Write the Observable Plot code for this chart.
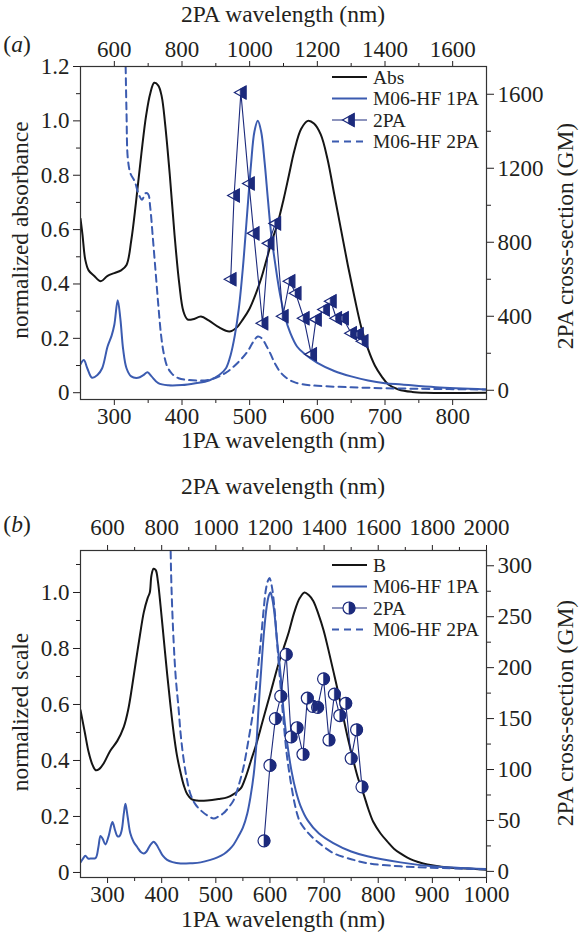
<!DOCTYPE html>
<html><head><meta charset="utf-8">
<script src="https://cdn.jsdelivr.net/npm/d3@7"></script>
<script src="https://cdn.jsdelivr.net/npm/@observablehq/plot@0.6"></script>
<style>
body{margin:0;background:#fff;}
#root{position:relative;width:583px;height:943px;font-family:'Liberation Serif',serif;color:#231f20;overflow:hidden;}
#root svg, #root svg text{font-family:'Liberation Serif',serif;}
.t{position:absolute;white-space:nowrap;font-size:23.5px;line-height:1;transform:translate(-50%,-50%);}
.v{position:absolute;white-space:nowrap;font-size:23.5px;line-height:1;transform:translate(-50%,-50%) rotate(-90deg);}
.p{position:absolute;left:0;}
</style></head><body><div id="root"></div><script>
// ---------- Panel (a) data: [1PA wavelength nm, value] ----------
const absA = [[250,0.64],[253,0.58],[257,0.49],[262,0.45],[270,0.43],[280,0.41],[290,0.43],[300,0.44],[310,0.45],[318,0.47],[325,0.56],[332,0.70],[340,0.88],[347,1.02],[353,1.10],[359,1.14],[365,1.13],[370,1.09],[375,0.99],[382,0.80],[389,0.58],[396,0.40],[402,0.30],[408,0.27],[416,0.27],[428,0.28],[440,0.265],[455,0.24],[470,0.225],[480,0.238],[490,0.27],[500,0.31],[510,0.37],[517,0.42],[525,0.49],[533,0.56],[541,0.62],[550,0.71],[558,0.80],[566,0.89],[576,0.97],[586,1.0],[595,0.99],[605,0.95],[615,0.86],[625,0.73],[635,0.60],[645,0.47],[655,0.35],[665,0.24],[675,0.16],[685,0.10],[695,0.06],[705,0.03],[720,0.012],[740,0.003],[760,0],[850,0]];
const m1A = [[250,0.105],[255,0.12],[260,0.09],[267,0.055],[275,0.065],[282,0.09],[290,0.17],[296,0.21],[300,0.25],[305,0.34],[309,0.27],[313,0.16],[318,0.09],[325,0.06],[335,0.055],[343,0.065],[349,0.075],[355,0.06],[365,0.035],[380,0.027],[400,0.028],[420,0.035],[440,0.045],[455,0.065],[465,0.09],[472,0.14],[478,0.21],[484,0.31],[490,0.46],[496,0.65],[502,0.84],[507,0.96],[512,1.0],[517,0.96],[522,0.85],[527,0.71],[532,0.58],[538,0.47],[545,0.36],[552,0.28],[560,0.22],[570,0.17],[580,0.145],[600,0.11],[625,0.08],[650,0.06],[675,0.045],[700,0.035],[725,0.03],[775,0.02],[850,0.012]];
// GM values (right axis)
const m2A = [[313,2400],[316,1900],[318,1500],[320,1250],[324,1170],[330,1130],[336,1060],[341,1030],[346,1065],[350,1060],[353,990],[357,820],[361,640],[365,460],[369,300],[373,200],[378,130],[385,90],[395,65],[410,55],[428,52],[442,58],[455,75],[467,100],[477,130],[488,170],[497,210],[505,260],[512,290],[518,280],[524,245],[531,195],[538,140],[546,95],[555,65],[565,45],[578,32],[600,24],[650,16],[700,11],[750,8],[850,4]];
const tpaA = [[472,600],[477,1053],[487,1609],[499,1118],[506,848],[519,362],[528,794],[538,902],[549,400],[559,589],[568,524],[580,389],[591,194],[598,383],[610,437],[620,481],[628,389],[638,389],[650,308],[660,302],[667,265]];

// ---------- Panel (b) data ----------
const absB = [[250,0.58],[258,0.50],[265,0.43],[272,0.385],[278,0.365],[285,0.37],[293,0.39],[305,0.435],[318,0.47],[330,0.52],[338,0.58],[345,0.66],[352,0.75],[360,0.85],[367,0.93],[374,0.98],[378,1.0],[381,1.06],[385,1.085],[389,1.08],[393,1.04],[398,0.95],[404,0.83],[410,0.71],[416,0.60],[422,0.50],[428,0.42],[435,0.355],[441,0.31],[447,0.28],[455,0.262],[465,0.257],[484,0.257],[505,0.262],[521,0.268],[533,0.28],[546,0.30],[555,0.34],[565,0.40],[575,0.46],[585,0.53],[595,0.60],[605,0.67],[615,0.74],[625,0.80],[635,0.86],[645,0.93],[655,0.98],[664,1.0],[672,0.99],[680,0.97],[690,0.92],[699,0.865],[708,0.795],[717,0.72],[727,0.635],[736,0.55],[745,0.47],[754,0.40],[763,0.335],[773,0.28],[782,0.225],[791,0.18],[804,0.14],[817,0.11],[829,0.085],[841,0.068],[853,0.054],[865,0.043],[883,0.032],[902,0.025],[930,0.018],[965,0.014],[1000,0.01]];
const m1B = [[250,0.036],[255,0.05],[259,0.06],[264,0.05],[270,0.05],[278,0.052],[283,0.09],[287,0.13],[291,0.12],[296,0.10],[302,0.13],[309,0.18],[314,0.15],[318,0.13],[322,0.13],[326,0.15],[330,0.21],[333,0.245],[337,0.2],[342,0.14],[348,0.11],[355,0.09],[362,0.072],[367,0.068],[372,0.075],[378,0.095],[385,0.11],[390,0.10],[396,0.08],[402,0.06],[410,0.045],[420,0.037],[435,0.032],[455,0.033],[472,0.036],[490,0.045],[503,0.054],[515,0.066],[525,0.082],[533,0.10],[542,0.13],[550,0.16],[558,0.21],[564,0.27],[570,0.35],[575,0.46],[579,0.59],[584,0.73],[589,0.86],[594,0.95],[598,0.99],[601,1.0],[604,0.98],[608,0.93],[613,0.83],[619,0.72],[625,0.58],[632,0.46],[640,0.36],[648,0.29],[656,0.24],[670,0.185],[690,0.14],[717,0.105],[750,0.075],[780,0.058],[841,0.036],[900,0.022],[1000,0.012]];
const m2B = [[413,420],[416,330],[418,280],[422,226],[426,190],[431,161],[435,135],[440,112],[446,92],[453,76],[462,66],[472,60],[484,55],[496,52],[505,54],[514,57],[524,63],[533,70],[542,84],[551,102],[560,128],[570,161],[577,195],[583,226],[588,255],[592,275],[596,285],[599,288],[603,281],[608,260],[613,226],[619,185],[625,148],[631,115],[638,89],[645,68],[651,55],[656,48],[670,38],[688,29],[717,18],[750,12],[780,8],[841,5],[1000,2]];
const tpaB = [[589,30],[600,104],[610,150],[620,172],[630,213],[639,132],[650,141],[661,115],[669,170],[679,162],[688,161],[699,189],[709,129],[719,174],[729,153],[740,165],[750,111],[760,139],[770,83]];

// ---------- ticks ----------
const aLeftTicks=[0,0.2,0.4,0.6,0.8,1.0,1.2], aLeftMinor=[0.1,0.3,0.5,0.7,0.9,1.1];
const aRightTicks=[0,400,800,1200,1600], aRightMinor=[200,600,1000,1400];
const aBottomTicks=[300,400,500,600,700,800], aBottomMinor=[350,450,550,650,750];
const aTopTicks=[600,800,1000,1200,1400,1600], aTopMinor=[700,900,1100,1300,1500];
const bLeftTicks=[0,0.2,0.4,0.6,0.8,1.0], bLeftMinor=[0.1,0.3,0.5,0.7,0.9,1.1];
const bRightTicks=[0,50,100,150,200,250,300], bRightMinor=[25,75,125,175,225,275];
const bBottomTicks=[300,400,500,600,700,800,900,1000], bBottomMinor=[350,450,550,650,750,850,950];
const bTopTicks=[600,800,1000,1200,1400,1600,1800,2000], bTopMinor=[700,900,1100,1300,1500,1700,1900];

const legendA=["Abs","M06-HF 1PA","2PA","M06-HF 2PA"];
const legendB=["B","M06-HF 1PA","2PA","M06-HF 2PA"];

const BLACK="#151515", BLUE="#3b5bb0", NAVY="#1c2a7c", INK="#231f20";
const FONT="'Liberation Serif', serif";

const triOutline={draw(c,s){const r=Math.sqrt(s/Math.PI);c.moveTo(-r,0);c.lineTo(0.8*r,-r);c.lineTo(0.8*r,r);c.closePath();}};
const triHalf={draw(c,s){const r=Math.sqrt(s/Math.PI);c.moveTo(-0.1*r,-0.55*r);c.lineTo(0.8*r,-r);c.lineTo(0.8*r,r);c.lineTo(-0.1*r,0.55*r);c.closePath();}};
const circHalf={draw(c,s){const r=Math.sqrt(s/Math.PI);c.moveTo(0,-r);c.arc(0,0,r,-Math.PI/2,Math.PI/2);c.closePath();}};

const fmtL=d=>d===0?"0":d.toFixed(1);
const plotStyle=`font-family: ${FONT}; font-size: 23px; color: ${INK}; background: transparent; overflow: visible;`;

function panel(o){
  const lin=(a,b)=>v=>b[0]+(v-a[0])/(a[1]-a[0])*(b[1]-b[0]);
  const toL=lin(o.rDom,o.yDom), toR=lin(o.yDom,o.rDom);
  const X=d=>d[0];
  return Plot.plot({
    width:583,height:o.height,marginLeft:80,marginRight:97,marginTop:o.mt,marginBottom:o.mb,
    x:{domain:o.xDom},y:{domain:o.yDom},style:plotStyle,
    marks:[
      Plot.axisY(o.lt,{anchor:"left",tickSize:7,tickPadding:4,tickFormat:fmtL,label:null,fontSize:23}),
      Plot.axisY(o.lm,{anchor:"left",tickSize:4,tickFormat:()=>"",label:null}),
      Plot.axisY(o.rt.map(toL),{anchor:"right",tickSize:7,tickPadding:4,tickFormat:d=>String(Math.round(toR(d))),label:null,fontSize:23}),
      Plot.axisY(o.rm.map(toL),{anchor:"right",tickSize:4,tickFormat:()=>"",label:null}),
      Plot.axisX(o.bt,{anchor:"bottom",tickSize:6,tickPadding:2,tickFormat:d=>String(d),label:null,fontSize:23}),
      Plot.axisX(o.bm,{anchor:"bottom",tickSize:4,tickFormat:()=>"",label:null}),
      Plot.axisX(o.tt.map(v=>v/2),{anchor:"top",tickSize:6,tickPadding:o.tp,tickFormat:d=>String(Math.round(d*2)),label:null,fontSize:23}),
      Plot.axisX(o.tm.map(v=>v/2),{anchor:"top",tickSize:4,tickFormat:()=>"",label:null}),
      Plot.line(o.abs,{x:X,y:d=>d[1],stroke:BLACK,strokeWidth:2,curve:"catmull-rom",clip:true}),
      Plot.line(o.m1,{x:X,y:d=>d[1],stroke:BLUE,strokeWidth:2,curve:"catmull-rom",clip:true}),
      Plot.line(o.m2,{x:X,y:d=>toL(d[1]),stroke:BLUE,strokeWidth:2,strokeDasharray:"7,5",curve:"catmull-rom",clip:true}),
      Plot.line(o.tpa,{x:X,y:d=>toL(d[1]),stroke:NAVY,strokeWidth:1.1}),
      Plot.dot(o.tpa,{x:X,y:d=>toL(d[1]),symbol:o.sym1,r:o.r,fill:"white",stroke:NAVY,strokeWidth:1.2}),
      Plot.dot(o.tpa,{x:X,y:d=>toL(d[1]),symbol:o.sym2,r:o.r,fill:NAVY,stroke:NAVY,strokeWidth:0.6}),
      Plot.frame({stroke:"#333",strokeWidth:1.2})
    ]
  });
}

const root=document.getElementById("root");
const pa=panel({height:460,mt:66,mb:61,tp:4,xDom:[250,850],yDom:[-0.025,1.2],rDom:[-50,1750],
  lt:aLeftTicks,lm:aLeftMinor,rt:aRightTicks,rm:aRightMinor,bt:aBottomTicks,bm:aBottomMinor,tt:aTopTicks,tm:aTopMinor,
  abs:absA,m1:m1A,m2:m2A,tpa:tpaA,sym1:triOutline,sym2:triHalf,r:6.5});
pa.classList.add("p");pa.style.top="0px";root.appendChild(pa);
const pb=panel({height:483,mt:90,mb:66,tp:10,xDom:[250,1000],yDom:[-0.018,1.15],rDom:[-6,315],
  lt:bLeftTicks,lm:bLeftMinor,rt:bRightTicks,rm:bRightMinor,bt:bBottomTicks,bm:bBottomMinor,tt:bTopTicks,tm:bTopMinor,
  abs:absB,m1:m1B,m2:m2B,tpa:tpaB,sym1:"circle",sym2:circHalf,r:6});
pb.classList.add("p");pb.style.top="460px";root.appendChild(pb);

function txt(s,x,y,cls){const e=document.createElement("div");e.className=cls||"t";e.innerHTML=s;e.style.left=x+"px";e.style.top=y+"px";root.appendChild(e);}
txt("2PA wavelength (nm)",283,15);
txt("(<i>a</i>)",17,45);
txt("1PA wavelength (nm)",283,441);
txt("2PA wavelength (nm)",283,487);
txt("(<i>b</i>)",17,525);
txt("1PA wavelength (nm)",283,920);
txt("normalized absorbance",21,230,"v");
txt("normalized scale",21,712,"v");
txt("2PA cross-section (GM)",566,236,"v");
txt("2PA cross-section (GM)",566,713,"v");

function legend(labels,top,sym1,sym2,r){
  const svg=d3.select(root).append("svg").attr("width",200).attr("height",90)
    .style("position","absolute").style("left","325px").style("top",top+"px")
    .style("font-family",FONT).style("font-size","19.5px");
  labels.forEach((lab,i)=>{
    const y=11+i*21.5;
    const g=svg.append("g");
    const ln=g.append("line").attr("x1",7).attr("x2",42).attr("y1",y).attr("y2",y).attr("stroke-width",i===2?1.1:2);
    if(i===0) ln.attr("stroke",BLACK);
    if(i===1) ln.attr("stroke",BLUE);
    if(i===2){ ln.attr("stroke",NAVY);
      const sz=Math.PI*r*r;
      g.append("path").attr("d",d3.symbol(typeof sym1==="string"?d3.symbolCircle:sym1,sz)()).attr("transform",`translate(24,${y})`).attr("fill","white").attr("stroke",NAVY).attr("stroke-width",1.2);
      g.append("path").attr("d",d3.symbol(sym2,sz)()).attr("transform",`translate(24,${y})`).attr("fill",NAVY).attr("stroke",NAVY).attr("stroke-width",0.6);
    }
    if(i===3) ln.attr("stroke",BLUE).attr("stroke-dasharray","7,5");
    g.append("text").attr("x",48).attr("y",y).attr("dy","0.35em").attr("fill",INK).text(lab);
  });
}
legend(legendA,66,triOutline,triHalf,6.5);
legend(legendB,554,"circle",circHalf,6);
</script></body></html>
